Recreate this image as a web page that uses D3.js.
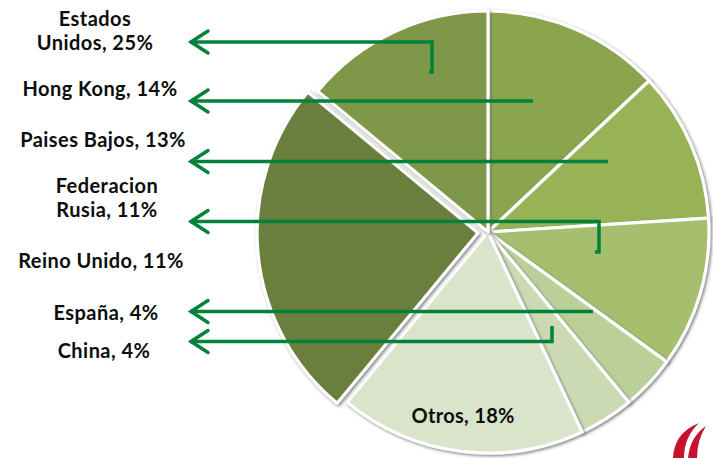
<!DOCTYPE html>
<html>
<head>
<meta charset="utf-8">
<script src="https://cdn.jsdelivr.net/npm/d3@7"></script>
<style>
  html, body { margin: 0; padding: 0; background: #fff; }
  svg { display: block; }
  text { font-family: Lato, "Open Sans", sans-serif; font-weight: bold; fill: #0d0d0d; }
</style>
</head>
<body>
<svg id="chart" width="713" height="458"></svg>
<script>
// ---- data (clockwise from 12 o'clock) ----
const categories = ["Paises Bajos", "Federacion Rusia", "Reino Unido", "España", "China", "Otros", "Estados Unidos", "Hong Kong"];
const values     = [13, 11, 11, 4, 4, 18, 25, 14];
const colors     = ["#8aa54e", "#97b357", "#a5bf6e", "#bbd098", "#cbdab3", "#dae4cb", "#6b7f3c", "#7f9748"];
const exploded   = ["Estados Unidos"];

// left-side label texts (as in the reference, manually placed)
const labelLines = [
  ["Estados", "Unidos, 25%"],
  ["Hong Kong, 14%"],
  ["Paises Bajos, 13%"],
  ["Federacion", "Rusia, 11%"],
  ["Reino Unido, 11%"],
  ["España, 4%"],
  ["China, 4%"]
];
// label layout: centre x and first baseline y
const labelLayout = [
  {x: 95, y: 26}, {x: 100, y: 96}, {x: 103, y: 147}, {x: 107, y: 193},
  {x: 101, y: 268}, {x: 106, y: 320}, {x: 104, y: 358}
];
// connector arrows (annotation shapes drawn by hand in the original)
const arrows = [
  [[190, 42], [432, 42], [432, 72], [429, 72]],
  [[190, 101], [533, 101]],
  [[190, 161.5], [608, 161.5]],
  [[190, 221.5], [599, 221.5], [599, 252], [595, 252]],
  [[190, 311.5], [593, 311.5]],
  [[190, 341.5], [552, 341.5], [552, 326]]
];

const svg = d3.select("#chart");
const cx = 488, cy = 232, R = 221, explodeBy = 10;

const defs = svg.append("defs");
const f = defs.append("filter").attr("id", "sh").attr("x", "-10%").attr("y", "-10%").attr("width", "120%").attr("height", "120%");
f.append("feDropShadow").attr("dx", 1.5).attr("dy", 1.5).attr("stdDeviation", 1.5)
  .attr("flood-color", "#6f6f6f").attr("flood-opacity", 0.85);

const pie = d3.pie().sort(null).value(d => d.v).startAngle(0).endAngle(2 * Math.PI);
const arc = d3.arc().innerRadius(0).outerRadius(R);
const data = categories.map((c, i) => ({c, v: values[i], col: colors[i]}));

const g = svg.append("g").attr("transform", `translate(${cx},${cy})`);
g.selectAll("path.slice")
  .data(pie(data))
  .join("path")
  .attr("class", "slice")
  .attr("d", arc)
  .attr("fill", d => d.data.col)
  .attr("stroke", "#fff")
  .attr("stroke-width", 3.2)
  .attr("stroke-linejoin", "round")
  .attr("filter", "url(#sh)")
  .attr("transform", d => {
    if (!exploded.includes(d.data.c)) return null;
    const a = (d.startAngle + d.endAngle) / 2;
    return `translate(${Math.sin(a) * explodeBy},${-Math.cos(a) * explodeBy})`;
  });

// "Otros" label inside its slice
const pd = pie(data);
const otros = pd.find(d => d.data.c === "Otros");
const lc = d3.arc().innerRadius(R * 0.86).outerRadius(R * 0.86).centroid(otros);
g.append("text")
  .attr("x", lc[0] - 1).attr("y", lc[1] + 2)
  .attr("text-anchor", "middle")
  .attr("font-size", 20)
  .attr("letter-spacing", 0.3)
  .text(`${otros.data.c}, ${otros.data.v}%`);

// left labels
labelLines.forEach((lines, i) => {
  const t = svg.append("text")
    .attr("text-anchor", "middle")
    .attr("font-size", 20)
    .attr("letter-spacing", 0.45);
  lines.forEach((ln, j) => {
    t.append("tspan").attr("x", labelLayout[i].x).attr("y", labelLayout[i].y + j * 24).text(ln);
  });
});

// arrows
const green = "#00823b";
const line = d3.line();
arrows.forEach(pts => {
  svg.append("path").attr("d", line(pts))
    .attr("fill", "none").attr("stroke", green).attr("stroke-width", 3.5)
    .attr("stroke-linejoin", "miter");
  const [tx, ty] = pts[0];
  svg.append("path").attr("d", line([[tx + 18, ty - 11], [tx + 1, ty], [tx + 18, ty + 11]]))
    .attr("fill", "none").attr("stroke", green).attr("stroke-width", 3.5)
    .attr("stroke-linecap", "round").attr("stroke-linejoin", "miter");
});

// corner logo (decorative flames)
svg.append("path").attr("d", "M673 458 Q674 433 699 423 Q684 437 684 458 Z").attr("fill", "#c4122f");
svg.append("path").attr("d", "M688 458 Q690 437 706 426 Q697 440 697 458 Z").attr("fill", "#c4122f");
</script>
</body>
</html>
